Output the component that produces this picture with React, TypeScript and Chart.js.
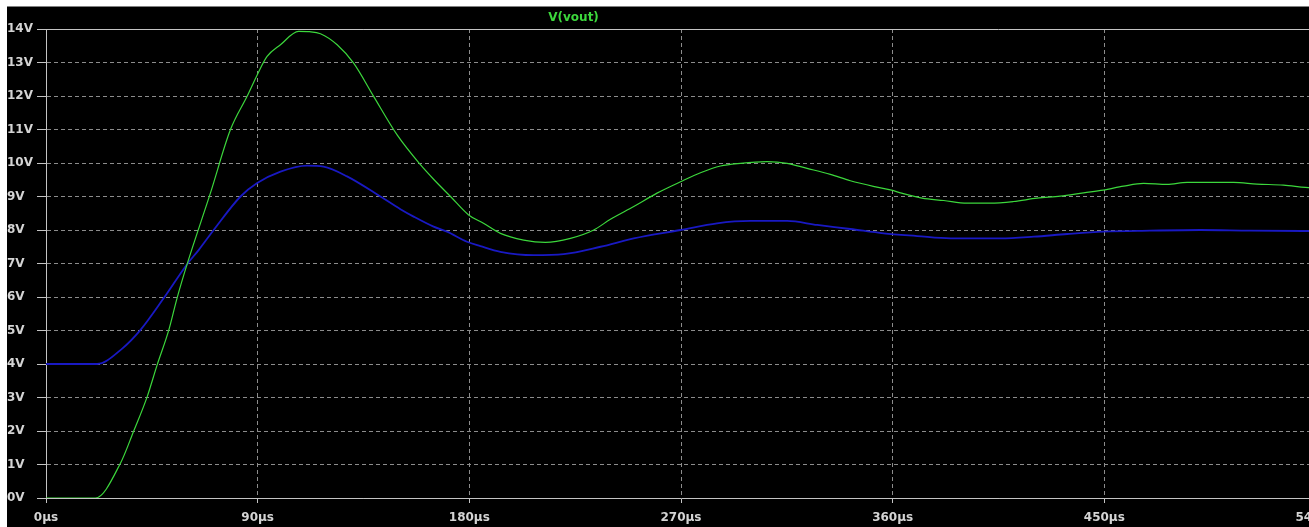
import React, { useEffect, useRef } from 'react';
import { Chart, registerables } from 'chart.js';

Chart.register(...registerables);

const TITLE = 'V(vout)';

// V(vout) – green trace (time in µs, volts)
const voutTime = [0, 21, 31.6, 37.3, 43, 47.2, 52.2, 55.7, 60, 69.9, 78.4, 85.5, 89.8, 94, 99.7, 107.4, 112, 116.7, 123.8, 130.8, 139.3, 149.3, 159.2, 165, 172, 179.7, 186, 193.2, 203.1, 212.3, 223, 232.9, 240, 249.9, 259.8, 269.8, 278.3, 286.8, 295.3, 306.6, 315.1, 323.6, 333.5, 342, 353.3, 359.5, 363.3, 372.5, 381.7, 391.6, 401.5, 411.4, 421.4, 431.3, 441.2, 449.5, 458.2, 466.7, 476.7, 485.2, 495.1, 505, 514.9, 526.2, 535.5, 540];
const voutVolts = [0, 0, 1.03, 2.0, 3.02, 3.96, 5.01, 5.96, 6.98, 9.1, 10.99, 11.99, 12.63, 13.18, 13.53, 13.93, 13.92, 13.86, 13.53, 12.98, 11.99, 10.84, 9.95, 9.5, 9.0, 8.45, 8.2, 7.9, 7.7, 7.63, 7.75, 8.0, 8.32, 8.7, 9.1, 9.44, 9.71, 9.91, 9.99, 10.04, 9.99, 9.84, 9.66, 9.47, 9.28, 9.19, 9.11, 8.95, 8.88, 8.8, 8.8, 8.85, 8.95, 9.01, 9.11, 9.19, 9.31, 9.39, 9.36, 9.42, 9.42, 9.42, 9.37, 9.34, 9.27, 9.25];

// second trace – blue
const blueTime = [0, 21.7, 32.4, 40.1, 50, 60, 64.9, 71.3, 82.7, 89.8, 99.7, 111, 118, 128, 142.2, 150.7, 156.3, 164.8, 170.5, 179, 184.7, 193.2, 207.3, 220.1, 235.8, 249.9, 269.8, 285.3, 299.5, 315.1, 327.9, 342, 356.2, 370.4, 384.6, 405.9, 420, 434.2, 449.5, 469.4, 490.7, 512, 535.5, 540];
const blueVolts = [4, 4, 4.46, 5.01, 5.96, 6.98, 7.4, 8.0, 9.0, 9.4, 9.74, 9.92, 9.89, 9.6, 9.0, 8.62, 8.4, 8.1, 7.95, 7.65, 7.52, 7.35, 7.25, 7.28, 7.5, 7.75, 8.0, 8.2, 8.27, 8.27, 8.15, 8.03, 7.9, 7.82, 7.75, 7.75, 7.8, 7.88, 7.95, 7.98, 8.0, 7.98, 7.97, 7.97];

const xTickValues = [0, 90, 180, 270, 360, 450, 540];
const yTickValues = [0, 1, 2, 3, 4, 5, 6, 7, 8, 9, 10, 11, 12, 13, 14];

const GREEN = 'rgb(60,215,60)';
const BLUE = 'rgb(25,25,195)';
const LABEL = '#d4d4d4';
const GRID = 'rgb(140,140,140)';
const FRAME = '#c4c4c4';
const FONT = { family: '"DejaVu Sans", Verdana, sans-serif', size: 12, weight: 'bold' as const };

const framePlugin = {
  id: 'ltframe',
  beforeDatasetsDraw(chart: any) {
    const { ctx, chartArea } = chart;
    ctx.save();
    ctx.strokeStyle = FRAME;
    ctx.lineWidth = 1;
    ctx.beginPath();
    ctx.moveTo(chartArea.left, chartArea.top + 0.5);
    ctx.lineTo(chartArea.right, chartArea.top + 0.5);
    ctx.stroke();
    ctx.restore();
  },
  afterDraw(chart: any) {
    const { ctx, chartArea } = chart;
    ctx.save();
    ctx.fillStyle = GREEN;
    ctx.font = 'bold 12px "DejaVu Sans", Verdana, sans-serif';
    ctx.textAlign = 'center';
    ctx.textBaseline = 'middle';
    ctx.fillText(TITLE, chartArea.left + chartArea.width * 0.4154, chartArea.top / 2);
    ctx.restore();
  },
};

export default function App() {
  const ref = useRef<HTMLCanvasElement | null>(null);

  useEffect(() => {
    if (!ref.current) return;
    const chart = new Chart(ref.current, {
      type: 'line',
      data: {
        datasets: [
          {
            label: TITLE,
            data: voutTime.map((t, i) => ({ x: t, y: voutVolts[i] })),
            borderColor: GREEN,
            borderWidth: 1.2,
            pointRadius: 0,
            cubicInterpolationMode: 'monotone',
          },
          {
            label: 'blue',
            data: blueTime.map((t, i) => ({ x: t, y: blueVolts[i] })),
            borderColor: BLUE,
            borderWidth: 1.8,
            pointRadius: 0,
            cubicInterpolationMode: 'monotone',
          },
        ],
      },
      options: {
        responsive: false,
        animation: false,
        layout: { padding: { top: 22, right: 21, left: 0, bottom: 0 } },
        plugins: {
          legend: { display: false },
          title: { display: false },
          tooltip: { enabled: false },
        },
        scales: {
          x: {
            type: 'linear',
            min: 0,
            max: 540,
            afterBuildTicks: (s: any) => {
              s.ticks = xTickValues.map((v) => ({ value: v }));
            },
            afterFit: (s: any) => {
              s.height = 29;
              s.paddingLeft = 0;
              s.paddingRight = 0;
            },
            ticks: {
              autoSkip: false,
              maxRotation: 0,
              color: LABEL,
              font: FONT,
              padding: 8,
              callback: (v: any) => `${v}µs`,
            },
            grid: { color: GRID, tickLength: 5, tickColor: FRAME },
            border: { color: FRAME, dash: [4, 3] },
          },
          y: {
            type: 'linear',
            min: 0,
            max: 14,
            afterBuildTicks: (s: any) => {
              s.ticks = yTickValues.map((v) => ({ value: v }));
            },
            afterFit: (s: any) => {
              s.width = 39;
              s.paddingTop = 0;
              s.paddingBottom = 0;
            },
            ticks: {
              autoSkip: false,
              color: LABEL,
              font: FONT,
              crossAlign: 'far',
              callback: (v: any) => `${v}V`,
            },
            grid: { color: GRID, tickLength: 9, tickColor: FRAME },
            border: { color: FRAME, dash: [4, 3] },
          },
        },
      },
      plugins: [framePlugin],
    } as any);
    return () => chart.destroy();
  }, []);

  return (
    <div
      style={{
        position: 'fixed',
        left: 7,
        top: 6,
        width: 1302,
        height: 520,
        overflow: 'hidden',
        background: '#000',
        borderTop: '1px solid #808080',
      }}
    >
      <canvas ref={ref} width={1330} height={520} style={{ display: 'block' }} />
    </div>
  );
}
